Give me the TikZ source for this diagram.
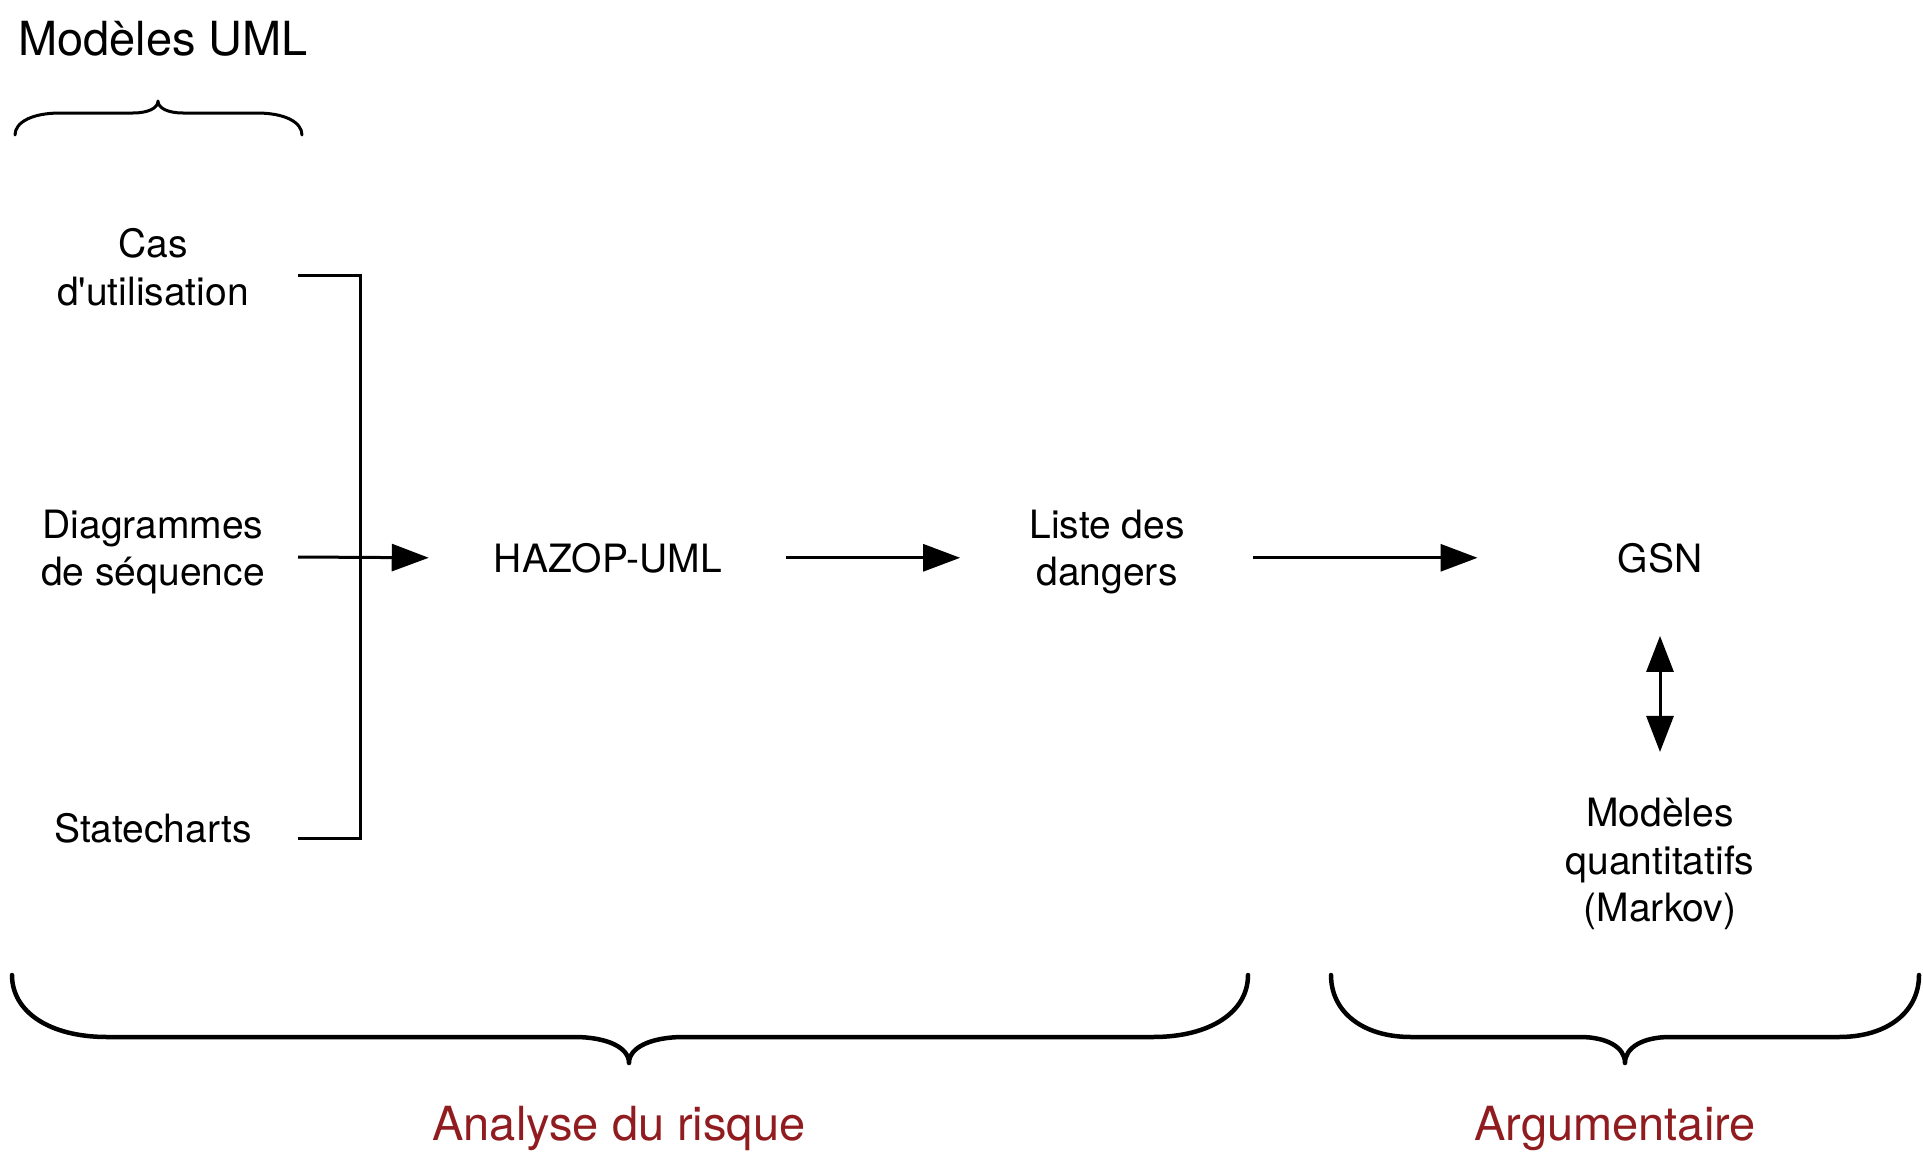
\documentclass[tikz,border=0pt]{standalone}
\usepackage{fontspec}
\setmainfont{TeX Gyre Heros}
\usetikzlibrary{arrows.meta}
\definecolor{brickred}{RGB}{145,28,32}
% args: xl, xr, xtip, yend, yhoriz, ytip, r, s, width
\newcommand\mycurly[9]{%
  \draw[line width=#9, line cap=round, line join=round]
    (#1,#4) .. controls (#1,{#4+0.6*(#5-#4)}) and ({#1+0.4*#7},#5) .. ({#1+#7},#5)
    -- ({#3-#8},#5) .. controls ({#3-0.4*#8},#5) and (#3,{#5+0.4*(#6-#5)}) .. (#3,#6)
    .. controls (#3,{#5+0.4*(#6-#5)}) and ({#3+0.4*#8},#5) .. ({#3+#8},#5)
    -- ({#2-#7},#5) .. controls ({#2-0.4*#7},#5) and (#2,{#4+0.6*(#5-#4)}) .. (#2,#4);}
\begin{document}
\begin{tikzpicture}[x=1pt,y=-1pt,
  lbl/.style={font=\fontsize{39}{47.5}\selectfont, align=center, inner sep=0pt},
  big/.style={font=\fontsize{47}{56}\selectfont, inner sep=0pt},
  redlbl/.style={big, text=brickred},
  arr/.style={line width=3pt, -{Triangle[length=37pt,width=27pt]}},
  darr/.style={line width=3pt, {Triangle[length=36pt,width=27pt]}-{Triangle[length=36pt,width=27pt]}},
  brk/.style={line width=3pt}]
\useasboundingbox[fill=white] (0,0) rectangle (1923,1159);

% labels
\node[big, anchor=base west] (uml) at (18,55) {Modèles UML};
\node[lbl] (cas) at (153,267) {Cas\\d\textquotesingle utilisation};
\node[lbl] (diag) at (153,552) {Diagrammes\\de séquence};
\node[lbl, anchor=base] (state) at (153,842) {Statecharts};
\node[lbl, anchor=base] (hazop) at (608,572) {HAZOP-UML};
\node[lbl] (liste) at (1107,552) {Liste des\\dangers};
\node[lbl, anchor=base] (gsn) at (1660,572) {GSN};
\node[lbl] (markov) at (1660,864) {Modèles\\quantitatifs\\(Markov)};
\node[redlbl, anchor=base] (ana) at (619,1140) {Analyse du risque};
\node[redlbl, anchor=base] (arg) at (1615,1140) {Argumentaire};

% bracket gathering the UML models
\coordinate (c1) at (298,275);
\coordinate (c2) at (360,275);
\coordinate (c3) at (360,838);
\coordinate (c4) at (298,838);
\draw[brk] (c1) -- (c2) -- (c3) -- (c4);

% arrows
\coordinate (d1) at (298,557);
\draw[arr] (d1) -- ([xshift=-65pt]hazop.west);
\draw[arr] ([xshift=64pt]hazop.east) -- ([xshift=-69pt]liste.west |- hazop.west);
\draw[arr] ([xshift=68pt]liste.east |- hazop.east) -- ([xshift=-140pt]gsn.west);
\draw[darr] ([yshift=-63pt]gsn.south) -- ([yshift=46pt]markov.north);

% braces
\mycurly{15}{302}{158}{135}{113}{101}{45}{25}{3pt}
\mycurly{12}{1248}{629}{975}{1037}{1063}{95}{55}{4.5pt}
\mycurly{1331}{1919}{1625}{975}{1037}{1063}{80}{45}{4.5pt}
\end{tikzpicture}
\end{document}
